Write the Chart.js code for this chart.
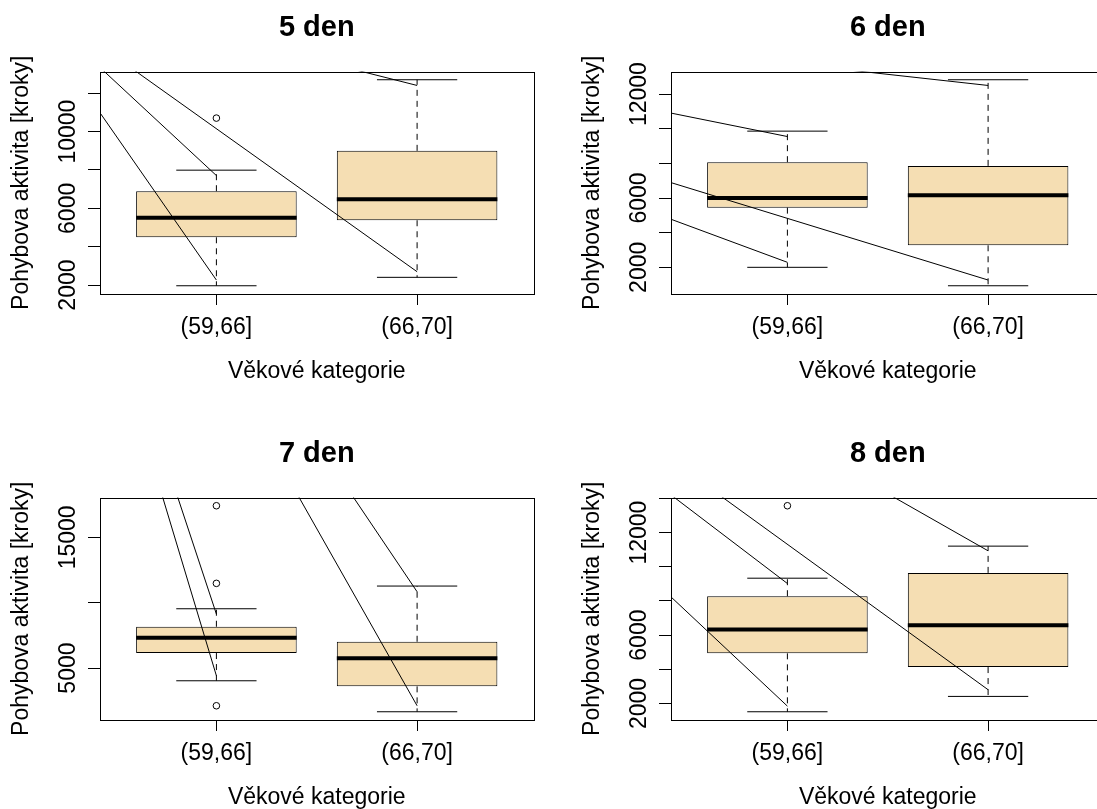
<!DOCTYPE html>
<html>
<head>
<meta charset="utf-8">
<script src="https://cdn.jsdelivr.net/npm/chart.js@4.4.1/dist/chart.umd.min.js"></script>
<style>
  html, body { margin: 0; padding: 0; background: #fff; overflow: hidden; }
  body { width: 1097px; height: 809px; position: relative; }
  canvas { position: absolute; }
</style>
</head>
<body>
<canvas id="day5" width="560" height="400" style="left:0;top:0"></canvas>
<canvas id="day6" width="560" height="400" style="left:571px;top:0"></canvas>
<canvas id="day7" width="560" height="400" style="left:0;top:426px"></canvas>
<canvas id="day8" width="560" height="400" style="left:571px;top:426px"></canvas>
<script>
const categories = ["(59,66]", "(66,70]"];

// 5 den
const day5Low = [1963, 2402];
const day5Q1 = [4491, 5379];
const day5Median = [5514, 6475];
const day5Q3 = [6893, 8997];
const day5High = [7990, 12705];
const day5Outliers = [[10705], []];
const day5LineStart = [17297, 17425, 17609, 17701];
const day5LineEndX = [1, 1, 2, 2];
const day5LineEnd = [2261, 7708, 2695, 12407];
const day5Ticks = [2000, 4000, 6000, 8000, 10000, 12000];
const day5TickLabels = [2000, 6000, 10000];

// 6 den
const day6Low = [2000, 936];
const day6Q1 = [5445, 3272];
const day6Median = [6006, 6162];
const day6Q3 = [8069, 7855];
const day6High = [9861, 12827];
const day6Outliers = [[], []];
const day6LineStart = [11882, 8384, 6575, 15065];
const day6LineEndX = [1, 2, 1, 2];
const day6LineEnd = [9549, 1266, 2289, 12497];
const day6Ticks = [2000, 4000, 6000, 8000, 10000, 12000];
const day6TickLabels = [2000, 6000, 12000];

// 7 den
const day7Low = [4028, 1657];
const day7Q1 = [6148, 3600];
const day7Median = [7318, 5742];
const day7Q3 = [8160, 7012];
const day7High = [9537, 11274];
const day7Outliers = [[17418, 11480, 2116], []];
const day7LineStart = [55426, 55510, 56334, 56404];
const day7LineEndX = [1, 1, 2, 2];
const day7LineEnd = [4411, 9132, 2116, 10838];
const day7Ticks = [5000, 10000, 15000];
const day7TickLabels = [5000, 15000];

// 8 den
const day8Low = [1513, 2411];
const day8Q1 = [4933, 4129];
const day8Median = [6323, 6575];
const day8Q3 = [8276, 9642];
const day8High = [9331, 11208];
const day8Outliers = [[13572], []];
const day8LineStart = [12864, 17963, 19827, 24305];
const day8LineEndX = [1, 1, 2, 2];
const day8LineEnd = [1842, 9020, 2803, 10933];
const day8Ticks = [2000, 4000, 6000, 8000, 10000, 12000, 14000];
const day8TickLabels = [2000, 6000, 12000];

const FONT = "'Liberation Sans', Arial, Helvetica, sans-serif";
const AXIS_PX = 23;
const BOX_FILL = "#F5DEB3";

Chart.defaults.font.family = FONT;
Chart.defaults.color = "#000";

const measureCtx = document.createElement("canvas").getContext("2d");
const textWidth = (txt) => {
  measureCtx.font = `${AXIS_PX}px ${FONT}`;
  return measureCtx.measureText(txt).width;
};

// R style box around the plot region
const framePlugin = {
  id: "frame",
  afterDatasetsDraw(chart) {
    const { ctx, chartArea: a } = chart;
    const l = Math.round(a.left), t = Math.round(a.top);
    const r = Math.round(a.right), b = Math.round(a.bottom);
    ctx.save();
    ctx.strokeStyle = "#000";
    ctx.lineWidth = 1;
    ctx.strokeRect(l + 0.5, t + 0.5, r - l, b - t);
    ctx.restore();
  },
};

const gap = (x) => ({ x, y: null });

const buildDatasets = (s) => {
  const pos = categories.map((_, i) => i + 1);

  const boxes = pos.map((x, i) => ({ x, y: [s.q1[i], s.q3[i]] }));
  const medians = pos.flatMap((x, i) => [
    { x: x - 0.4, y: s.median[i] }, { x: x + 0.4, y: s.median[i] }, gap(x + 0.4),
  ]);
  const whiskers = pos.flatMap((x, i) => [
    { x, y: s.q3[i] }, { x, y: s.high[i] }, gap(x),
    { x, y: s.q1[i] }, { x, y: s.low[i] }, gap(x),
  ]);
  const staples = pos.flatMap((x, i) => [
    { x: x - 0.2, y: s.high[i] }, { x: x + 0.2, y: s.high[i] }, gap(x + 0.2),
    { x: x - 0.2, y: s.low[i] }, { x: x + 0.2, y: s.low[i] }, gap(x + 0.2),
  ]);
  const outliers = s.outliers.flatMap((vals, i) => vals.map((v) => ({ x: pos[i], y: v })));
  const lines = s.lineStart.flatMap((v0, k) => [
    { x: 0, y: v0 }, { x: s.lineEndX[k], y: s.lineEnd[k] }, gap(s.lineEndX[k]),
  ]);

  return [
    {
      type: "line", data: lines, borderColor: "#000", borderWidth: 1,
      pointRadius: 0, spanGaps: false, clip: 0,
    },
    {
      type: "scatter", data: outliers, pointRadius: 3.3, pointBorderWidth: 1,
      pointBorderColor: "#000", pointBackgroundColor: "rgba(0,0,0,0)",
    },
    {
      type: "line", data: medians, borderColor: "#000", borderWidth: 4,
      borderCapStyle: "butt", pointRadius: 0, spanGaps: false,
    },
    {
      type: "line", data: staples, borderColor: "#000", borderWidth: 1,
      pointRadius: 0, spanGaps: false,
    },
    {
      type: "line", data: whiskers, borderColor: "#000", borderWidth: 1,
      borderDash: [6, 5], pointRadius: 0, spanGaps: false,
    },
    {
      type: "bar", data: boxes, backgroundColor: BOX_FILL, borderColor: "#000",
      borderWidth: 1, borderSkipped: false, barPercentage: 0.8, categoryPercentage: 1,
    },
  ];
};

const renderPanel = (id, title, s) => {
  const pos = categories.map((_, i) => i + 1);
  const all = [...s.low, ...s.high, ...s.outliers.flat()];
  const lo = Math.min(...all);
  const hi = Math.max(...all);
  const pad = (hi - lo) * 0.04;
  const xPad = categories.length * 0.04;
  const widest = Math.max(...s.tickLabels.map((v) => textWidth(String(v))));
  const axisFont = { family: FONT, size: AXIS_PX, lineHeight: 1 };

  new Chart(document.getElementById(id), {
    type: "bar",
    data: { datasets: buildDatasets(s) },
    options: {
      responsive: false,
      animation: false,
      events: [],
      layout: { padding: { left: 0, right: 26.5, top: 0, bottom: 0 } },
      plugins: {
        legend: { display: false },
        tooltip: { enabled: false },
        title: {
          display: true,
          text: title,
          fullSize: false,
          color: "#000",
          font: { family: FONT, size: 29, weight: "bold", lineHeight: 1 },
          padding: { top: 13.3, bottom: 29.2 },
        },
      },
      scales: {
        x: {
          type: "linear",
          min: 0.5 - xPad,
          max: categories.length + 0.5 + xPad,
          offset: false,
          afterBuildTicks: (scale) => {
            scale.ticks = pos.map((v) => ({ value: v }));
          },
          afterFit: (scale) => {
            scale.height = 106;
          },
          grid: {
            display: true, drawOnChartArea: false, drawTicks: true, offset: false,
            tickLength: 11, tickColor: "#000", tickWidth: 1, color: "#000",
          },
          border: { display: false },
          ticks: {
            color: "#000", font: axisFont, padding: 11, autoSkip: false,
            minRotation: 0, maxRotation: 0,
            callback: (v) => categories[v - 1] ?? "",
          },
          title: {
            display: true, text: "Věkové kategorie", color: "#000",
            font: axisFont, padding: { top: 0, bottom: 16.6 },
          },
        },
        y: {
          type: "linear",
          min: lo - pad,
          max: hi + pad,
          beginAtZero: false,
          afterBuildTicks: (scale) => {
            scale.ticks = s.ticks.map((v) => ({ value: v }));
          },
          afterFit: (scale) => {
            scale.width = 100;
          },
          grid: {
            display: true, drawOnChartArea: false, drawTicks: true,
            tickLength: 12, tickColor: "#000", tickWidth: 1, color: "#000",
          },
          border: { display: false },
          ticks: {
            color: "#000", font: axisFont, autoSkip: false,
            minRotation: 90, maxRotation: 90, crossAlign: "center",
            padding: 19.3 - widest / 2,
            callback: (v) => (s.tickLabels.includes(v) ? String(v) : ""),
          },
          title: {
            display: true, text: "Pohybova aktivita [kroky]", color: "#000",
            font: axisFont, padding: { top: 10.3, bottom: 0 },
          },
        },
      },
    },
    plugins: [framePlugin],
  });
};

renderPanel("day5", "5 den", {
  low: day5Low, q1: day5Q1, median: day5Median, q3: day5Q3, high: day5High,
  outliers: day5Outliers, lineStart: day5LineStart, lineEndX: day5LineEndX,
  lineEnd: day5LineEnd, ticks: day5Ticks, tickLabels: day5TickLabels,
});
renderPanel("day6", "6 den", {
  low: day6Low, q1: day6Q1, median: day6Median, q3: day6Q3, high: day6High,
  outliers: day6Outliers, lineStart: day6LineStart, lineEndX: day6LineEndX,
  lineEnd: day6LineEnd, ticks: day6Ticks, tickLabels: day6TickLabels,
});
renderPanel("day7", "7 den", {
  low: day7Low, q1: day7Q1, median: day7Median, q3: day7Q3, high: day7High,
  outliers: day7Outliers, lineStart: day7LineStart, lineEndX: day7LineEndX,
  lineEnd: day7LineEnd, ticks: day7Ticks, tickLabels: day7TickLabels,
});
renderPanel("day8", "8 den", {
  low: day8Low, q1: day8Q1, median: day8Median, q3: day8Q3, high: day8High,
  outliers: day8Outliers, lineStart: day8LineStart, lineEndX: day8LineEndX,
  lineEnd: day8LineEnd, ticks: day8Ticks, tickLabels: day8TickLabels,
});
</script>
</body>
</html>
